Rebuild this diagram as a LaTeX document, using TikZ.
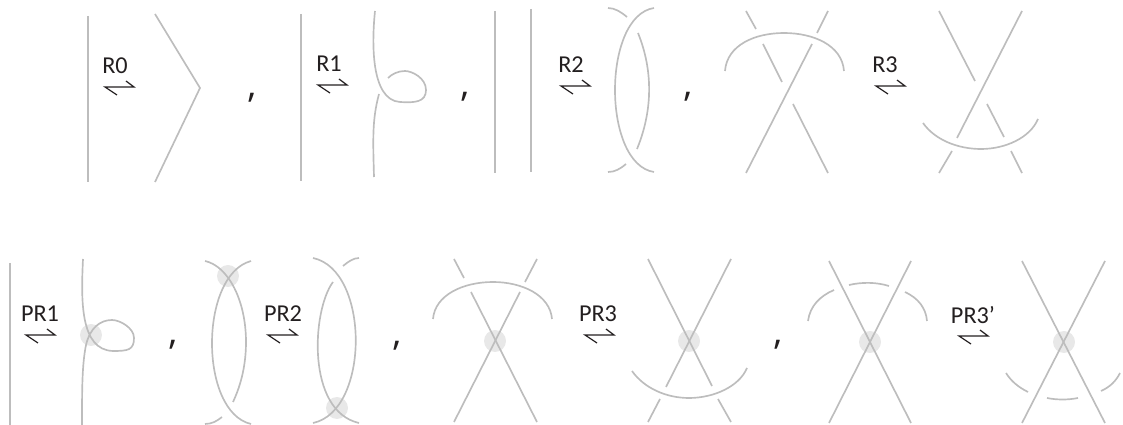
\documentclass[tikz,border=0pt]{standalone}
\usepackage{fontspec}
\setmainfont{Carlito}
\newfontfamily\commafont{Open Sans}
\definecolor{strand}{HTML}{BDBDBD}
\definecolor{vertex}{HTML}{E8E8E8}
\definecolor{ink}{HTML}{231F20}
\tikzset{
  strandline/.style={strand, line width=0.95pt},
  vertexdot/.style={fill=vertex, draw=none, circle, minimum size=22*0.02cm, inner sep=0pt},
  movelabel/.style={text=ink, inner sep=0pt, font=\fontsize{13.8}{15}\selectfont},
  movearrow/.style={ink, line width=0.7pt},
  sepcomma/.style={text=ink, inner sep=0pt, font=\commafont\fontsize{21}{24}\selectfont}
}

\begin{document}
\begin{tikzpicture}[x=0.02cm, y=-0.02cm]
  \useasboundingbox (0,0) rectangle (1123,425);
  % singular points go under the strands
  \foreach \n/\x/\y in {a/91/335, b/228/276, c/337/408, d/495/341,
                        e/689/341, f/870/342, g/1064/342}
    \node[vertexdot] (dot\n) at (\x,\y) {};
  % move labels with their arrows
  \foreach \n/\x/\a/\y/\t in {a/115/105/87/R0, b/329/318/85/R1, c/571/561/86/R2,
                              d/885/876/86/R3, e/40/26/335/PR1, f/283/268/335/PR2,
                              g/598/585/335/PR3, h/973/959/336/PR3’} {
    \node[movelabel] (move\n) at (\x,\y-21) {\t};
    \draw[movearrow] (\a+12,\y+8) -- (\a,\y) -- (\a+29,\y) -- (\a+21,\y-6);
  }
  \foreach \n/\x/\y in {a/252/98, b/465/97, c/688/97, d/173/345, e/397/346, f/778/345}
    \node[sepcomma] (comma\n) at (\x,\y) {,};

  % R0
  \draw[strandline] (88,16) -- (88,182);
  \draw[strandline] (155,14) -- (200,88) -- (155,182);
  % R1
  \draw[strandline] (301,14) -- (301,181);
  \draw[strandline] (375,11) .. controls (372,40) and (370,100) .. (400,102)
    .. controls (415,103) and (426,102) .. (426,90)
    .. controls (426,78) and (412,71) .. (405,71)
    .. controls (398,71) and (392,74) .. (388,78);
  \draw[strandline] (379,94) .. controls (372,120) and (373,140) .. (374,177);
  % R2
  \draw[strandline] (495,11) -- (495,173);
  \draw[strandline] (531,9) -- (531,172);
  \draw[strandline] (608,8) .. controls (615,8) and (621,12) .. (627,17);
  \draw[strandline] (654,8) .. controls (602,16) and (602,164) .. (654,172);
  \draw[strandline] (638,33) .. controls (653,70) and (653,110) .. (637,149);
  \draw[strandline] (608,172) .. controls (615,172) and (620,169) .. (626,164);
  % R3 left
  \draw[strandline] (746,11) -- (756,29);
  \draw[strandline] (828,11) -- (817,33);
  \draw[strandline] (725,71) .. controls (727,45) and (755,33) .. (784,33)
    .. controls (813,33) and (842,45) .. (844,71);
  \draw[strandline] (763,44) -- (782,82);
  \draw[strandline] (812,44) -- (746,173);
  \draw[strandline] (793,104) -- (828,173);
  % R3 right
  \draw[strandline] (939,11) -- (975,81);
  \draw[strandline] (1022,11) -- (957,138);
  \draw[strandline] (987,104) -- (1004,137);
  \draw[strandline] (923,123) .. controls (935,140) and (958,149) .. (981,149)
    .. controls (1005,149) and (1030,138) .. (1038,119);
  \draw[strandline] (952,151) -- (939,173);
  \draw[strandline] (1011,151) -- (1022,173);
  % PR1
  \draw[strandline] (10,263) -- (10,425);
  \draw[strandline] (83,259) .. controls (81,300) and (80,350) .. (113,351)
    .. controls (128,351) and (134,350) .. (134,338)
    .. controls (134,328) and (120,320) .. (112,320)
    .. controls (100,320) and (90,328) .. (86,345)
    .. controls (82,365) and (82,390) .. (82,425);
  % PR2
  \draw[strandline] (205,261) .. controls (228,266) and (246,300) .. (246,342)
    .. controls (246,365) and (241,385) .. (233,402);
  \draw[strandline] (251,261) .. controls (199,275) and (199,412) .. (251,424);
  \draw[strandline] (205,424) .. controls (212,424) and (217,421) .. (222,417);
  \draw[strandline] (313,258) .. controls (370,270) and (370,411) .. (313,423);
  \draw[strandline] (359,423) .. controls (306,411) and (312,310) .. (333,282);
  \draw[strandline] (343,266) .. controls (348,262) and (353,258) .. (359,258);
  % PR3
  \draw[strandline] (454,259) -- (464,278);
  \draw[strandline] (537,259) -- (525,282);
  \draw[strandline] (433,319) .. controls (435,295) and (463,282) .. (493,282)
    .. controls (522,282) and (550,295) .. (552,319);
  \draw[strandline] (471,292) -- (537,422);
  \draw[strandline] (520,292) -- (454,422);
  \draw[strandline] (648,259) -- (712,386);
  \draw[strandline] (731,259) -- (666,387);
  \draw[strandline] (632,371) .. controls (644,388) and (666,398) .. (689,398)
    .. controls (713,398) and (739,387) .. (747,368);
  \draw[strandline] (660,399) -- (648,422);
  \draw[strandline] (718,399) -- (731,422);
  % PR3'
  \draw[strandline] (829,261) -- (911,423);
  \draw[strandline] (911,261) -- (829,423);
  \draw[strandline] (808,321) .. controls (810,306) and (820,296) .. (834,290);
  \draw[strandline] (849,285) .. controls (862,282) and (876,282) .. (889,286);
  \draw[strandline] (905,292) .. controls (918,298) and (926,308) .. (927,321);
  \draw[strandline] (1022,261) -- (1105,423);
  \draw[strandline] (1105,261) -- (1022,423);
  \draw[strandline] (1006,373) .. controls (1011,381) and (1018,387) .. (1028,392);
  \draw[strandline] (1047,398) .. controls (1057,400) and (1068,400) .. (1078,398);
  \draw[strandline] (1101,391) .. controls (1110,387) and (1116,381) .. (1120,373);
\end{tikzpicture}
\end{document}
